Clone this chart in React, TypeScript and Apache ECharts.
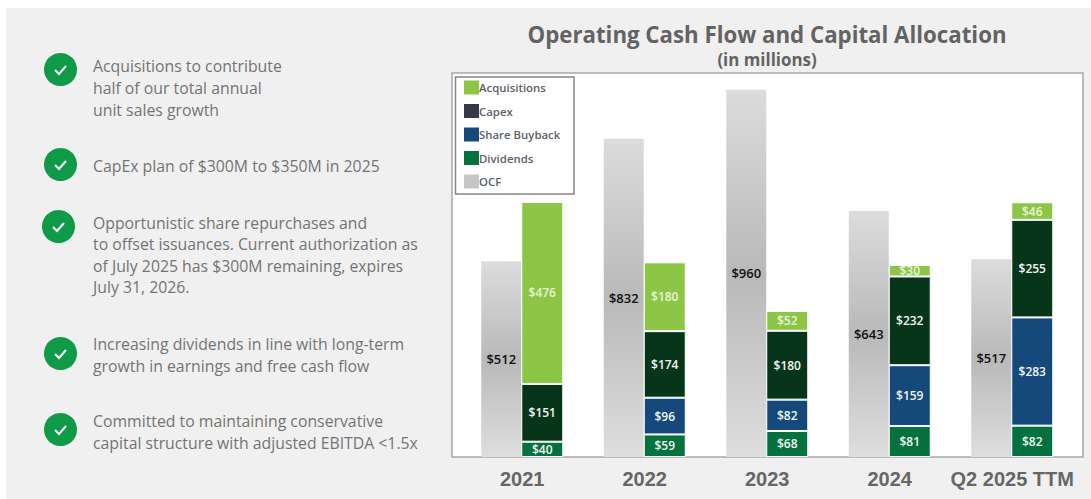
import React, { useEffect, useRef } from "react";
import * as echarts from "echarts";

const categories = ["2021", "2022", "2023", "2024", "Q2 2025 TTM"];
const ocf = [512, 832, 960, 643, 517];
const dividends = [40, 59, 68, 81, 82];
const buyback = [null, 96, 82, 159, 283];
const capex = [151, 174, 180, 232, 255];
const acquisitions = [476, 180, 52, 30, 46];

const bullets = [
  { lines: ["Acquisitions to contribute", "half of our total annual", "unit sales growth"], iconX: 60, iconY: 70, textY: 58, gap: 22 },
  { lines: ["CapEx plan of $300M to $350M in 2025"], iconX: 60, iconY: 165, textY: 158, gap: 22 },
  { lines: ["Opportunistic share repurchases and", "to offset issuances. Current authorization as", "of July 2025 has $300M remaining, expires", "July 31, 2026."], iconX: 58, iconY: 227, textY: 215, gap: 21.3 },
  { lines: ["Increasing dividends in line with long-term", "growth in earnings and free cash flow"], iconX: 60, iconY: 354, textY: 336, gap: 22 },
  { lines: ["Committed to maintaining conservative", "capital structure with adjusted EBITDA <1.5x"], iconX: 60, iconY: 430, textY: 413, gap: 22 },
];

const BODY_FONT = "'Open Sans', 'Noto Sans', sans-serif";

export default function App() {
  const ref = useRef<HTMLDivElement>(null);
  useEffect(() => {
    const chart = echarts.init(ref.current!, null, { renderer: "svg" });
    const money = (p: any) => (p.value == null ? "" : "$" + p.value);
    const ocfFill = new echarts.graphic.LinearGradient(0, 0, 0, 1, [
      { offset: 0, color: "#dcdcdc" },
      { offset: 0.5, color: "#b9b9b9" },
      { offset: 1, color: "#dedede" },
    ]);
    const stacked = (name: string, data: (number | null)[], color: string) => ({
      name,
      type: "bar",
      stack: "uses",
      barWidth: 42,
      data,
      itemStyle: { color, borderColor: "#ffffff", borderWidth: 1 },
      label: {
        show: true,
        position: "inside",
        formatter: money,
        color: name === "Acquisitions" ? "#e8f4d8" : "#f2f6f2",
        fontFamily: BODY_FONT,
        fontSize: 12,
        fontWeight: 600,
      },
    });
    const graphics: any[] = [
      { type: "rect", silent: true, z: -10, shape: { x: 6, y: 8, width: 1085, height: 491 }, style: { fill: "#f0f0f0" } },
      { type: "rect", silent: true, z: -9, shape: { x: 452, y: 73, width: 631, height: 384 }, style: { fill: "#ffffff", stroke: "#a8a8a8", lineWidth: 1.5 } },
      { type: "rect", silent: true, z: -8, shape: { x: 455.5, y: 77, width: 118.5, height: 117 }, style: { fill: "#ffffff", stroke: "#858585", lineWidth: 1.5 } },
    ];
    bullets.forEach((b) => {
      graphics.push({ type: "circle", silent: true, shape: { cx: b.iconX + 0.5, cy: b.iconY - 0.5, r: 16.5 }, style: { fill: "#0f9a48" } });
      graphics.push({
        type: "polyline",
        silent: true,
        shape: { points: [[b.iconX - 5, b.iconY], [b.iconX - 1, b.iconY + 4], [b.iconX + 6, b.iconY - 4]] },
        style: { stroke: "#ffffff", lineWidth: 2, fill: "none" },
      });
      b.lines.forEach((line, i) => {
        graphics.push({
          type: "text",
          silent: true,
          x: 93,
          y: b.textY + i * b.gap,
          style: { text: line, fill: "#747474", font: `15.8px ${BODY_FONT}` },
        });
      });
    });
    chart.setOption({
      animation: false,
      backgroundColor: "#ffffff",
      title: {
        text: "Operating Cash Flow and Capital Allocation",
        subtext: "(in millions)",
        left: 767,
        top: 19,
        textAlign: "center",
        itemGap: 0,
        padding: 0,
        textStyle: { color: "#636363", fontFamily: BODY_FONT, fontSize: 22.25, fontWeight: 700, lineHeight: 30 },
        subtextStyle: { color: "#636363", fontFamily: BODY_FONT, fontSize: 16.9, fontWeight: 700, lineHeight: 20 },
      },
      legend: {
        left: 464,
        top: 80.5,
        padding: 0,
        orient: "vertical",
        itemWidth: 15,
        itemHeight: 14,
        itemGap: 9.5,
        icon: "rect",
        selectedMode: false,
        textStyle: { color: "#5a6068", fontFamily: BODY_FONT, fontSize: 11.4, fontWeight: 600, padding: [0, 0, 0, -5] },
        data: [
          { name: "Acquisitions", itemStyle: { color: "#8dc647", borderWidth: 0 } },
          { name: "Capex", itemStyle: { color: "#333c46", borderWidth: 0 } },
          { name: "Share Buyback", itemStyle: { color: "#15497c", borderWidth: 0 } },
          { name: "Dividends", itemStyle: { color: "#04713f", borderWidth: 0 } },
          { name: "OCF", itemStyle: { color: "#c6c6c6", borderWidth: 0 } },
        ],
      },
      grid: { left: 461, top: 73, width: 612.5, height: 384 },
      xAxis: {
        type: "category",
        data: categories,
        axisLine: { show: false },
        axisTick: { show: false },
        axisLabel: { interval: 0, margin: 12, color: "#666666", fontFamily: "'Liberation Sans', Arial, sans-serif", fontSize: 20, fontWeight: 700 },
      },
      yAxis: { type: "value", min: 0, max: 1004, show: false, splitLine: { show: false } },
      series: [
        {
          name: "OCF",
          type: "bar",
          stack: "ocf",
          barWidth: 40,
          barGap: 0,
          data: ocf,
          itemStyle: { color: ocfFill },
          label: {
            show: true,
            position: "inside",
            formatter: money,
            color: "#111111",
            fontFamily: BODY_FONT,
            fontSize: 13,
            fontWeight: 600,
          },
        },
        stacked("Dividends", dividends, "#04713f"),
        stacked("Share Buyback", buyback, "#15497c"),
        stacked("Capex", capex, "#07351a"),
        stacked("Acquisitions", acquisitions, "#8dc647"),
      ],
      graphic: graphics,
    });
    return () => chart.dispose();
  }, []);
  return <div ref={ref} style={{ position: "fixed", left: 0, top: 0, width: 1091, height: 499 }} />;
}
